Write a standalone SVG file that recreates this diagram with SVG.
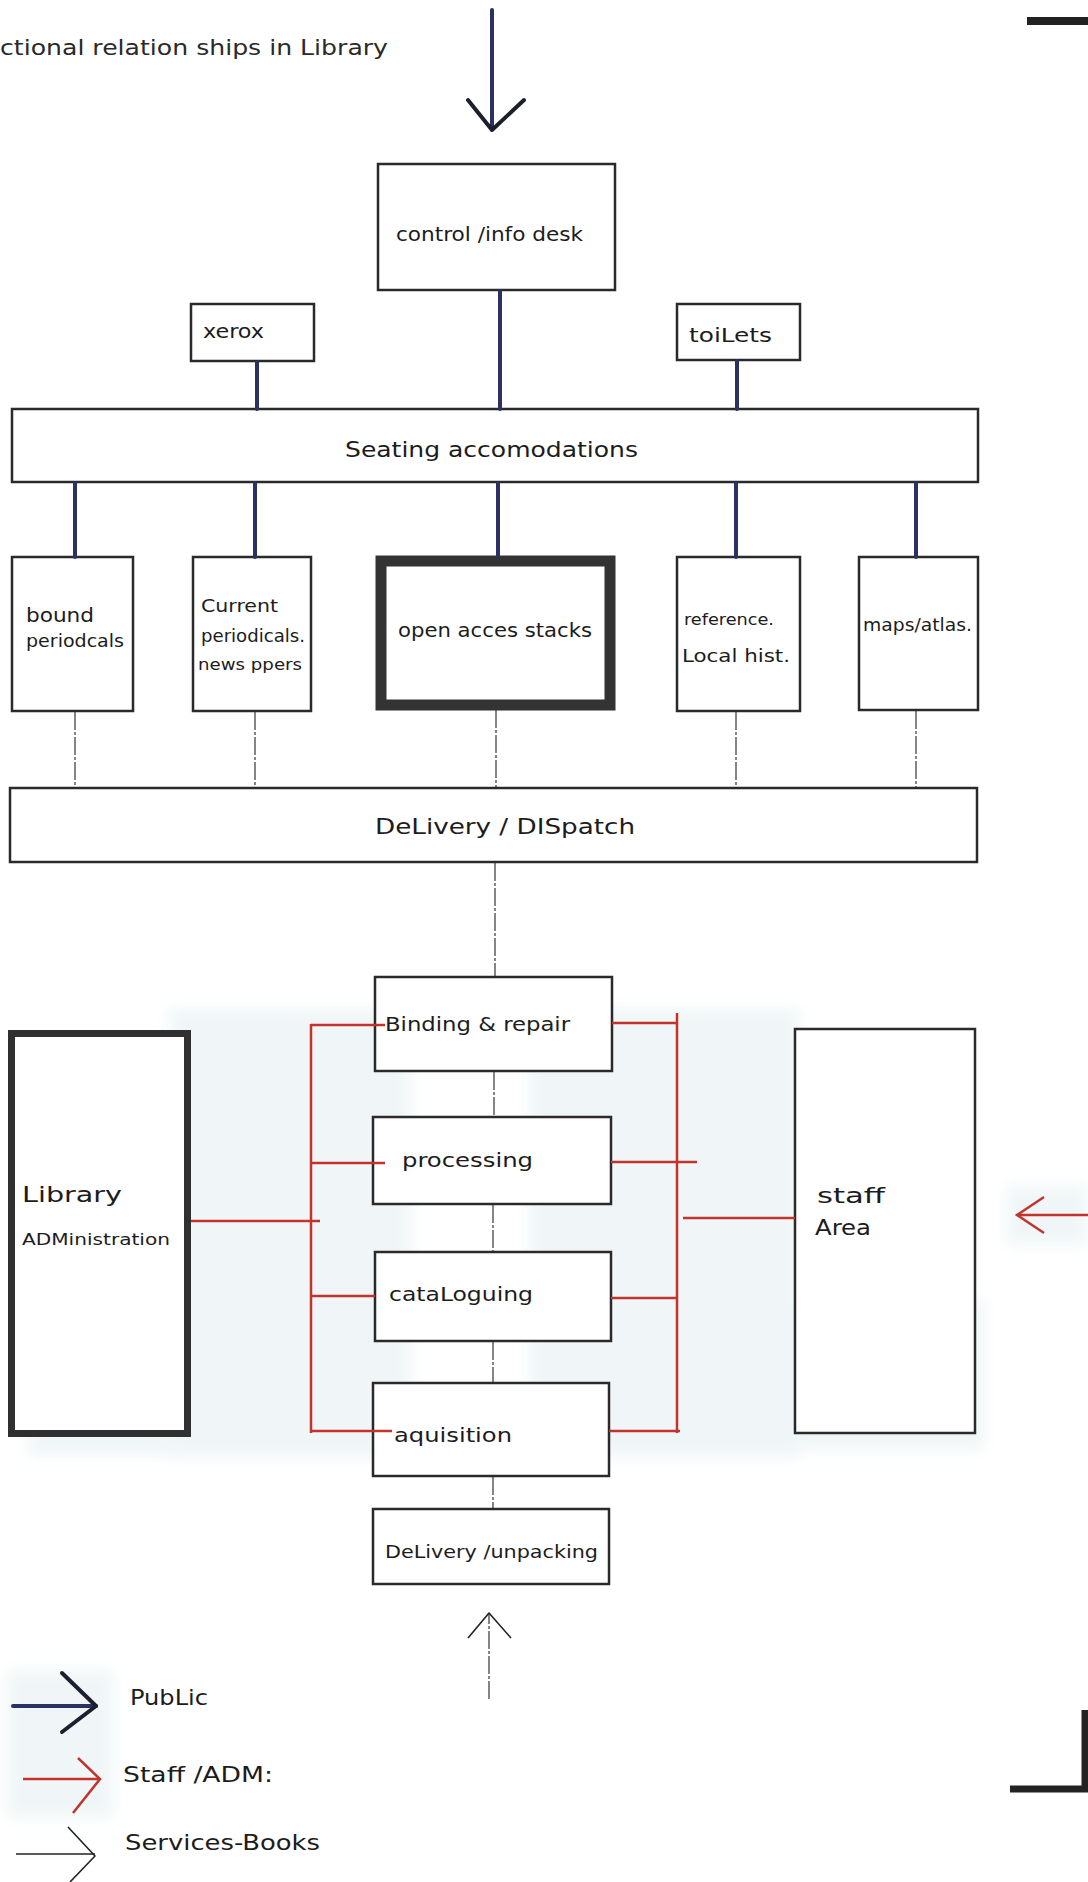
<svg xmlns="http://www.w3.org/2000/svg" width="1088" height="1882" viewBox="0 0 1088 1882">
  <style>
    .box{fill:#fff;stroke:#2a2a2a;stroke-width:2.5}
    .heavy{fill:#fff;stroke:#303030;stroke-width:7}
    .stack{fill:#fff;stroke:#333;stroke-width:11}
    .lbl{font-family:"DejaVu Sans","Liberation Sans",sans-serif;fill:#1c1c1c;font-stretch:condensed}
    .title{font-family:"DejaVu Sans","Liberation Sans",sans-serif;fill:#2a2a2a}
    .pub{stroke:#2b3263;stroke-width:4;fill:none;stroke-linecap:round}
    .pubhead{stroke:#1e1f2e;stroke-width:4;fill:none;stroke-linecap:round;stroke-linejoin:round}
    .staff{stroke:#c3332d;stroke-width:2.5;fill:none}
    .svc{stroke:#222;stroke-width:1.1;stroke-dasharray:18 2 3 2;fill:none}
    .solid{stroke:#222;stroke-width:1.6;fill:none;stroke-linejoin:round}
    .tint{fill:#eef5f6}
  </style>
  <defs>
    <filter id="soft" x="-10%" y="-10%" width="120%" height="120%">
      <feGaussianBlur stdDeviation="7"/>
    </filter>
  </defs>

  <rect width="1088" height="1882" fill="#fff"/>

  <!-- pale wash behind the staff section and legend -->
  <g filter="url(#soft)" opacity="0.85">
    <rect class="tint" x="168" y="1008" width="244" height="450"/>
    <rect class="tint" x="528" y="1008" width="272" height="450"/>
    <rect class="tint" x="800" y="1300" width="185" height="150"/>
    <rect class="tint" x="28" y="1428" width="190" height="28"/>
    <rect class="tint" x="1006" y="1185" width="82" height="60"/>
    <rect class="tint" x="6" y="1670" width="108" height="148"/>
  </g>

  <!-- sheet corner marks -->
  <rect x="1027" y="17" width="61" height="8" fill="#222"/>
  <path d="M1010,1789 H1085 V1710" fill="none" stroke="#222" stroke-width="7"/>

  <text class="title" x="0" y="55" font-size="22" textLength="388" lengthAdjust="spacingAndGlyphs">ctional relation ships in Library</text>

  <!-- public side -->
  <g id="control-desk">
    <rect class="box" x="378" y="164" width="237" height="126"/>
    <text class="lbl" x="396" y="241" font-size="20" textLength="187" lengthAdjust="spacingAndGlyphs">control /info desk</text>
  </g>
  <g id="xerox">
    <rect class="box" x="191" y="304" width="123" height="57"/>
    <text class="lbl" x="203" y="338" font-size="19" textLength="61" lengthAdjust="spacingAndGlyphs">xerox</text>
  </g>
  <g id="toilets">
    <rect class="box" x="677" y="304" width="123" height="56"/>
    <text class="lbl" x="689" y="342" font-size="20" textLength="83" lengthAdjust="spacingAndGlyphs">toiLets</text>
  </g>
  <g id="seating">
    <rect class="box" x="12" y="409" width="966" height="73"/>
    <text class="lbl" x="345" y="457" font-size="21" textLength="293" lengthAdjust="spacingAndGlyphs">Seating accomodations</text>
  </g>
  <g id="bound-periodicals">
    <rect class="box" x="12" y="557" width="121" height="154"/>
    <text class="lbl" x="26" y="622" font-size="20" textLength="68" lengthAdjust="spacingAndGlyphs">bound</text>
    <text class="lbl" x="26" y="647" font-size="17" textLength="98" lengthAdjust="spacingAndGlyphs">periodcals</text>
  </g>
  <g id="current-periodicals">
    <rect class="box" x="193" y="557" width="118" height="154"/>
    <text class="lbl" x="201" y="612" font-size="18" textLength="77" lengthAdjust="spacingAndGlyphs">Current</text>
    <text class="lbl" x="201" y="642" font-size="17" textLength="104" lengthAdjust="spacingAndGlyphs">periodicals.</text>
    <text class="lbl" x="198" y="670" font-size="15" textLength="104" lengthAdjust="spacingAndGlyphs">news ppers</text>
  </g>
  <g id="open-access-stacks">
    <rect class="stack" x="381" y="561" width="229" height="144"/>
    <text class="lbl" x="398" y="637" font-size="19" textLength="194" lengthAdjust="spacingAndGlyphs">open acces stacks</text>
  </g>
  <g id="reference">
    <rect class="box" x="677" y="557" width="123" height="154"/>
    <text class="lbl" x="684" y="625" font-size="15" textLength="90" lengthAdjust="spacingAndGlyphs">reference.</text>
    <text class="lbl" x="682" y="662" font-size="18" textLength="108" lengthAdjust="spacingAndGlyphs">Local hist.</text>
  </g>
  <g id="maps-atlas">
    <rect class="box" x="859" y="557" width="119" height="153"/>
    <text class="lbl" x="863" y="631" font-size="17" textLength="109" lengthAdjust="spacingAndGlyphs">maps/atlas.</text>
  </g>
  <g id="delivery-dispatch">
    <rect class="box" x="10" y="788" width="967" height="74"/>
    <text class="lbl" x="375" y="834" font-size="21" textLength="260" lengthAdjust="spacingAndGlyphs">DeLivery / DISpatch</text>
  </g>

  <!-- staff side -->
  <g id="binding-repair">
    <rect class="box" x="375" y="977" width="237" height="94"/>
    <text class="lbl" x="385" y="1031" font-size="19" textLength="185" lengthAdjust="spacingAndGlyphs">Binding &amp; repair</text>
  </g>
  <g id="processing">
    <rect class="box" x="373" y="1117" width="238" height="87"/>
    <text class="lbl" x="402" y="1167" font-size="20" textLength="131" lengthAdjust="spacingAndGlyphs">processing</text>
  </g>
  <g id="cataloguing">
    <rect class="box" x="375" y="1252" width="236" height="89"/>
    <text class="lbl" x="389" y="1301" font-size="20" textLength="144" lengthAdjust="spacingAndGlyphs">cataLoguing</text>
  </g>
  <g id="aquisition">
    <rect class="box" x="373" y="1383" width="236" height="93"/>
    <text class="lbl" x="394" y="1442" font-size="19" textLength="118" lengthAdjust="spacingAndGlyphs">aquisition</text>
  </g>
  <g id="delivery-unpacking">
    <rect class="box" x="373" y="1509" width="236" height="75"/>
    <text class="lbl" x="385" y="1558" font-size="18" textLength="213" lengthAdjust="spacingAndGlyphs">DeLivery /unpacking</text>
  </g>
  <g id="library-administration">
    <rect class="heavy" x="11.5" y="1033.5" width="176" height="400"/>
    <text class="lbl" x="22" y="1202" font-size="21" textLength="100" lengthAdjust="spacingAndGlyphs">Library</text>
    <text class="lbl" x="22" y="1245" font-size="16" textLength="148" lengthAdjust="spacingAndGlyphs">ADMinistration</text>
  </g>
  <g id="staff-area">
    <rect class="box" x="795" y="1029" width="180" height="404"/>
    <text class="lbl" x="817" y="1203" font-size="21" textLength="68" lengthAdjust="spacingAndGlyphs">staff</text>
    <text class="lbl" x="815" y="1235" font-size="21" textLength="56" lengthAdjust="spacingAndGlyphs">Area</text>
  </g>

  <g id="connectors">
    <!-- public entrance and public routes -->
    <line class="pub" x1="492" y1="10" x2="492" y2="128"/>
    <path class="pubhead" d="M468,100 L492,130 L524,100"/>
    <line class="pub" x1="500" y1="291" x2="500" y2="409"/>
    <line class="pub" x1="257" y1="362" x2="257" y2="409"/>
    <line class="pub" x1="737" y1="361" x2="737" y2="409"/>
    <line class="pub" x1="75" y1="483" x2="75" y2="557"/>
    <line class="pub" x1="255" y1="483" x2="255" y2="557"/>
    <line class="pub" x1="498" y1="483" x2="498" y2="556"/>
    <line class="pub" x1="736" y1="483" x2="736" y2="557"/>
    <line class="pub" x1="916" y1="483" x2="916" y2="557"/>

    <!-- book service routes -->
    <line class="svc" x1="75" y1="712" x2="75" y2="788"/>
    <line class="svc" x1="255" y1="712" x2="255" y2="788"/>
    <line class="svc" x1="496" y1="710" x2="496" y2="788"/>
    <line class="svc" x1="736" y1="712" x2="736" y2="788"/>
    <line class="svc" x1="916" y1="711" x2="916" y2="788"/>
    <line class="svc" x1="495" y1="863" x2="495" y2="977"/>
    <line class="svc" x1="494" y1="1072" x2="494" y2="1117"/>
    <line class="svc" x1="493" y1="1205" x2="493" y2="1252"/>
    <line class="svc" x1="493" y1="1342" x2="493" y2="1383"/>
    <line class="svc" x1="493" y1="1477" x2="493" y2="1509"/>
    <line class="svc" x1="489" y1="1699" x2="489" y2="1614"/>
    <path class="solid" d="M468,1638 L489,1613 L511,1638"/>

    <!-- staff / administration routes -->
    <line class="staff" x1="311" y1="1024" x2="311" y2="1433"/>
    <line class="staff" x1="677" y1="1013" x2="677" y2="1433"/>
    <line class="staff" x1="311" y1="1025" x2="385" y2="1025"/>
    <line class="staff" x1="612" y1="1023" x2="678" y2="1023"/>
    <line class="staff" x1="311" y1="1163" x2="385" y2="1163"/>
    <line class="staff" x1="611" y1="1162" x2="697" y2="1162"/>
    <line class="staff" x1="311" y1="1296" x2="375" y2="1296"/>
    <line class="staff" x1="611" y1="1298" x2="677" y2="1298"/>
    <line class="staff" x1="311" y1="1431" x2="392" y2="1431"/>
    <line class="staff" x1="609" y1="1431" x2="680" y2="1431"/>
    <line class="staff" x1="191" y1="1221" x2="320" y2="1221"/>
    <line class="staff" x1="683" y1="1218" x2="795" y2="1218"/>
    <line class="staff" x1="1017" y1="1215" x2="1088" y2="1215"/>
    <path class="staff" d="M1044,1197 L1017,1215 L1044,1233"/>
  </g>

  <g id="legend">
    <line class="pub" x1="13" y1="1706" x2="96" y2="1706" stroke="#1f2240"/>
    <path class="pubhead" d="M62,1673 L96,1706 L62,1732" stroke="#2a3478"/>
    <text class="lbl" x="130" y="1705" font-size="22" textLength="78" lengthAdjust="spacingAndGlyphs">PubLic</text>

    <line class="staff" x1="23" y1="1779" x2="100" y2="1779" stroke-width="3"/>
    <path class="staff" d="M78,1758 L100,1779 L73,1813"/>
    <text class="lbl" x="123" y="1782" font-size="21" textLength="150" lengthAdjust="spacingAndGlyphs">Staff /ADM:</text>

    <line class="solid" x1="16" y1="1854" x2="95" y2="1854"/>
    <path class="solid" d="M68,1827 L95,1856 L70,1882"/>
    <text class="lbl" x="125" y="1850" font-size="21" textLength="195" lengthAdjust="spacingAndGlyphs">Services-Books</text>
  </g>
</svg>
